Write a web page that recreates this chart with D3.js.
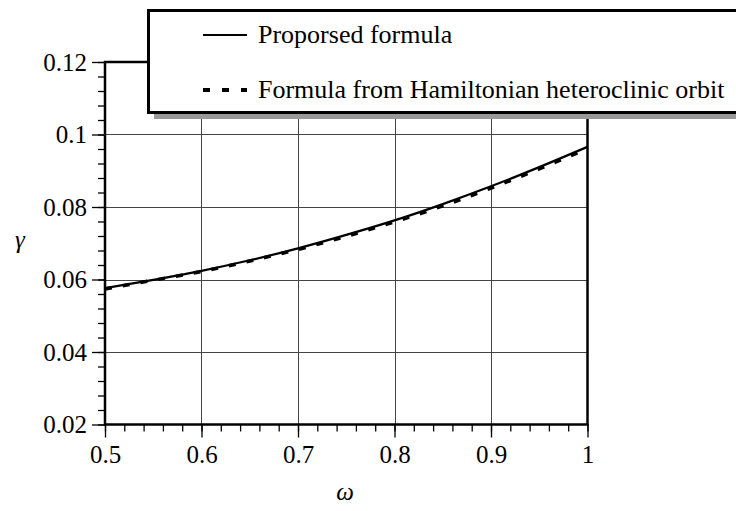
<!DOCTYPE html>
<html>
<head>
<meta charset="utf-8">
<script src="https://cdn.jsdelivr.net/npm/d3@7"></script>
<style>
    body { margin: 0; background: #fff; }
    text { font-family: "Liberation Serif", "Times New Roman", Times, serif; fill: #000; }
</style>
</head>
<body>
<div id="chart"></div>
<script>
var omega = [0.5, 0.55, 0.6, 0.65, 0.7, 0.75, 0.8, 0.85, 0.9, 0.95, 1.0];
var gammaProposed = [0.0576, 0.0599, 0.0624, 0.0653, 0.0686, 0.0723, 0.0763, 0.0808, 0.0857, 0.0910, 0.0966];
var gammaHamiltonian = [0.0574, 0.0598, 0.0622, 0.0651, 0.0683, 0.0719, 0.0759, 0.0803, 0.0852, 0.0905, 0.0961];
var xTicks = [0.5, 0.6, 0.7, 0.8, 0.9, 1];
var yTicks = [0.02, 0.04, 0.06, 0.08, 0.1, 0.12];
var legendLabels = ["Proporsed formula", "Formula from Hamiltonian heteroclinic orbit"];

function initChart() {
    var width = 736, height = 511;
    var left = 105, right = 587.5, top = 62, bottom = 424.5;
    var serif = "'Liberation Serif', 'Times New Roman', Times, serif";

    var svg = d3.select("#chart")
            .append("svg")
            .attr("width", width)
            .attr("height", height);

    var x = d3.scaleLinear().domain([0.5, 1]).range([left, right]);
    var y = d3.scaleLinear().domain([0.02, 0.12]).range([bottom, top]);

    // grid
    svg.append("g").selectAll("line")
            .data(xTicks.slice(1, -1))
            .enter().append("line")
            .attr("x1", function(d) { return Math.round(x(d)) + 0.5; })
            .attr("x2", function(d) { return Math.round(x(d)) + 0.5; })
            .attr("y1", top).attr("y2", bottom)
            .style("stroke", "#444").style("stroke-width", 1);
    svg.append("g").selectAll("line")
            .data(yTicks.slice(1, -1))
            .enter().append("line")
            .attr("y1", function(d) { return Math.round(y(d)) + 0.5; })
            .attr("y2", function(d) { return Math.round(y(d)) + 0.5; })
            .attr("x1", left).attr("x2", right)
            .style("stroke", "#444").style("stroke-width", 1);

    // minor ticks
    var xMinor = d3.range(0.5, 1.0001, 0.02);
    var yMinor = d3.range(0.02, 0.12001, 0.004);
    svg.append("g")
            .attr("transform", "translate(0," + bottom + ")")
            .call(d3.axisBottom(x).tickValues(xMinor).tickSize(7).tickFormat(""))
            .call(function(g) { g.select(".domain").remove(); });
    svg.append("g")
            .attr("transform", "translate(" + left + ",0)")
            .call(d3.axisLeft(y).tickValues(yMinor).tickSize(7).tickFormat(""))
            .call(function(g) { g.select(".domain").remove(); });

    // major ticks with labels
    var xAxis = svg.append("g")
            .attr("transform", "translate(0," + bottom + ")")
            .call(d3.axisBottom(x).tickValues(xTicks).tickSize(13).tickPadding(8).tickFormat(d3.format("")));
    var yAxis = svg.append("g")
            .attr("transform", "translate(" + left + ",0)")
            .call(d3.axisLeft(y).tickValues(yTicks).tickSize(13).tickPadding(5).tickFormat(d3.format("")));
    xAxis.select(".domain").remove();
    yAxis.select(".domain").remove();
    xAxis.attr("font-family", serif);
    yAxis.attr("font-family", serif);
    svg.selectAll(".tick text")
            .style("font-family", serif)
            .style("font-size", "25px");
    svg.selectAll(".tick line").style("stroke-width", 1.3);

    // frame
    svg.append("rect")
            .attr("x", left).attr("y", top)
            .attr("width", right - left).attr("height", bottom - top)
            .style("fill", "none").style("stroke", "#000").style("stroke-width", 2.5);

    var line = d3.line()
            .x(function(d, i) { return x(omega[i]); })
            .y(function(d) { return y(d); })
            .curve(d3.curveMonotoneX);

    svg.append("path")
            .attr("d", line(gammaHamiltonian))
            .style("fill", "none").style("stroke", "#000")
            .style("stroke-width", 3.5).style("stroke-dasharray", "7,11");
    svg.append("path")
            .attr("d", line(gammaProposed))
            .style("fill", "none").style("stroke", "#000")
            .style("stroke-width", 2.2);

    // axis titles
    svg.append("text")
            .attr("x", 20).attr("y", 248)
            .attr("text-anchor", "middle")
            .style("font-style", "italic").style("font-size", "25px")
            .text("γ");
    svg.append("text")
            .attr("x", 345).attr("y", 500)
            .attr("text-anchor", "middle")
            .style("font-style", "italic").style("font-size", "25px")
            .text("ω");

    // legend
    var legend = svg.append("g");
    legend.append("rect")
            .attr("x", 154).attr("y", 16)
            .attr("width", 700).attr("height", 103)
            .style("fill", "#999");
    legend.append("rect")
            .attr("x", 148.5).attr("y", 10.5)
            .attr("width", 700).attr("height", 102)
            .style("fill", "#fff").style("stroke", "#000").style("stroke-width", 3);

    var rows = [35, 90];
    legend.append("line")
            .attr("x1", 203).attr("x2", 247).attr("y1", rows[0]).attr("y2", rows[0])
            .style("stroke", "#000").style("stroke-width", 2);
    legend.append("line")
            .attr("x1", 203).attr("x2", 247).attr("y1", rows[1]).attr("y2", rows[1])
            .style("stroke", "#000").style("stroke-width", 4).style("stroke-dasharray", "7,12");
    legend.selectAll("text.lbl")
            .data(legendLabels)
            .enter().append("text")
            .attr("class", "lbl")
            .attr("x", 258)
            .attr("y", function(d, i) { return rows[i] + 8; })
            .style("font-size", "26px")
            .text(function(d) { return d; });
}

initChart();
</script>
</body>
</html>
